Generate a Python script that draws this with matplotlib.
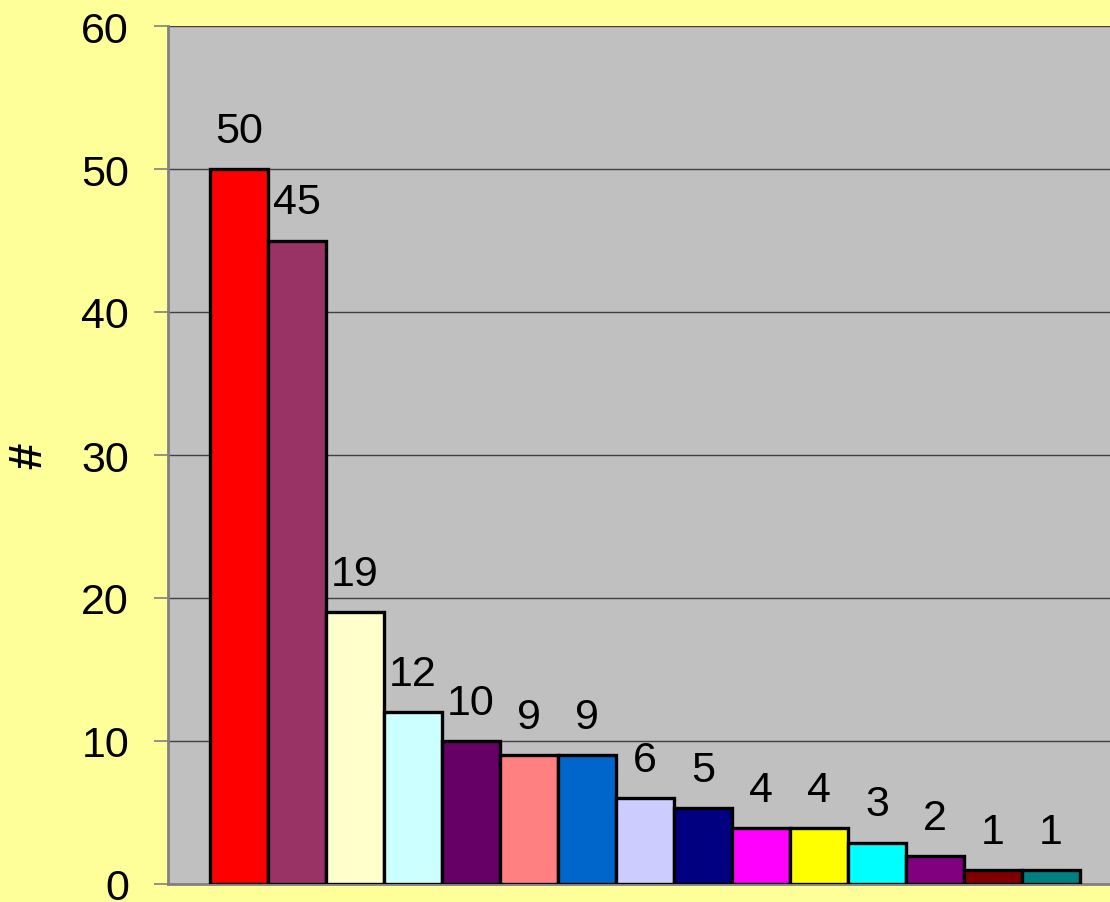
import matplotlib
matplotlib.use("Agg")
import matplotlib.pyplot as plt

values = [50, 45, 19, 12, 10, 9, 9, 6, 5.3, 3.9, 3.9, 2.9, 1.95, 1.0, 1.0]
labels = ["50", "45", "19", "12", "10", "9", "9", "6", "5", "4", "4", "3", "2", "1", "1"]
colors = ["#FF0000", "#993366", "#FFFFCC", "#CCFFFF", "#660066", "#FF8080", "#0066CC",
          "#CCCCFF", "#000080", "#FF00FF", "#FFFF00", "#00FFFF", "#800080", "#800000", "#008080"]
yticks = [0, 10, 20, 30, 40, 50, 60]

plt.rcParams['font.family'] = ['Liberation Sans', 'DejaVu Sans']

W, H = 1110, 903
fig = plt.figure(figsize=(W / 100, H / 100), dpi=100, facecolor="#FFFF99")
left, right, top, bottom = 168, 1122, 27, 885
ax = fig.add_axes([left / W, 1 - bottom / H, (right - left) / W, (bottom - top) / H])
ax.set_facecolor("#C0C0C0")

x = list(range(len(values)))
bars = ax.bar(x, values, width=1.0, color=colors, edgecolor="black", linewidth=2.4, zorder=3)
for xi, v, lab in zip(x, values, labels):
    ax.annotate(lab, (xi, v), xytext=(0, 13), textcoords="offset points",
                ha="center", va="bottom", fontsize=31, zorder=4)

ax.set_xlim(-1.224, len(values) - 1 + 1.224)
ax.set_ylim(0, 60)
ax.set_yticks(yticks)
ax.set_yticklabels([str(t) for t in yticks], fontsize=31)
ax.set_xticks([])
ax.yaxis.grid(True, color="#404040", linewidth=1.0, zorder=0)
ax.set_axisbelow(True)
ax.tick_params(axis="y", direction="out", length=10, width=1.2, color="#808080", pad=18)
for s in ["top", "right"]:
    ax.spines[s].set_visible(False)
ax.spines["left"].set_color("#808080")
ax.spines["left"].set_linewidth(2.0)
ax.spines["bottom"].set_color("#808080")
ax.spines["bottom"].set_linewidth(2.0)

fig.text(29 / W, 1 - 456 / H, "#", rotation=90, fontsize=34, fontweight="bold",
         ha="center", va="center")

fig.savefig("out.png", dpi=100, facecolor=fig.get_facecolor())
